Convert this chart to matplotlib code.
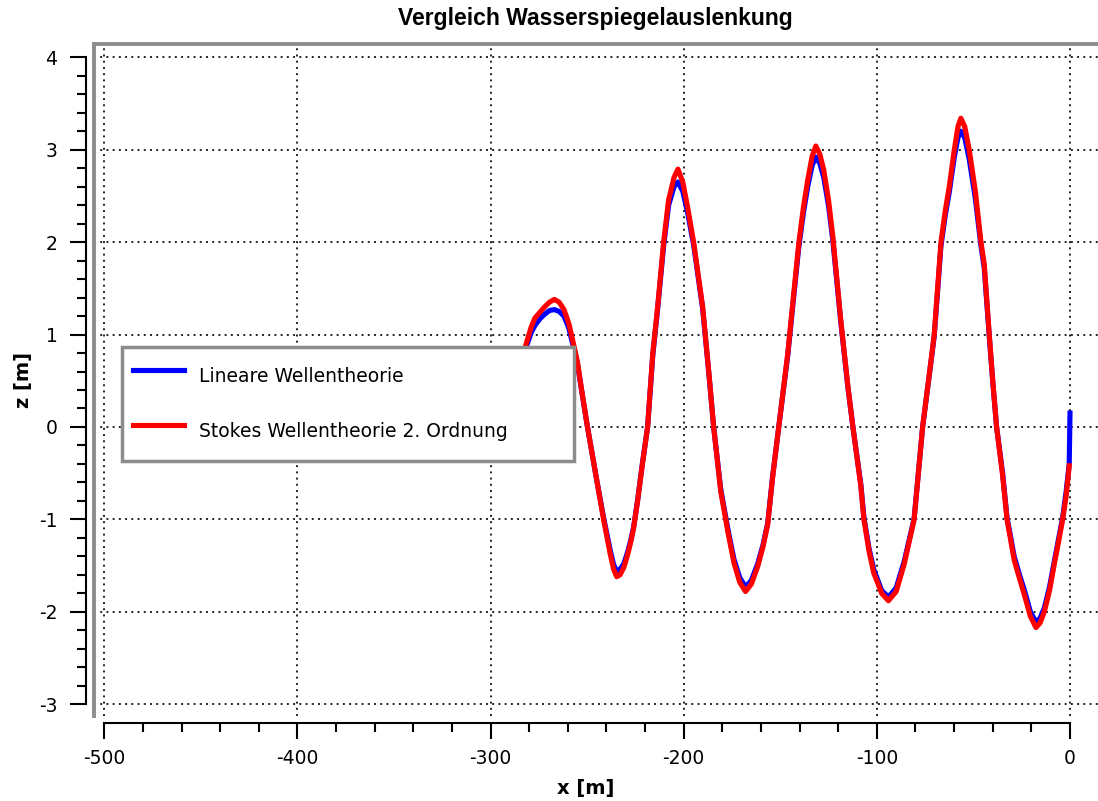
import numpy as np
import matplotlib.pyplot as plt
from matplotlib.lines import Line2D
from matplotlib.ticker import MultipleLocator

plt.rcParams['axes.unicode_minus'] = False
plt.rcParams['font.family'] = ['DejaVu Sans']

# values
x_stokes = [-283, -281, -279, -277, -274.5, -272, -269.5, -267, -264.5, -262, -259.5,
            -257.5, -255, -253, -250, -245.5, -241.5, -238, -236.3, -234.7, -233, -231,
            -229, -227.5, -226, -224, -221.5, -218.7, -216, -213.5, -210.4, -207.8, -205, -203,
            -200.5, -198, -194.8, -190.2, -187, -184.5, -180.8, -177, -174, -171, -168,
            -165, -161.7, -159, -156.5, -154, -150.8, -146.1, -143, -140.4, -138, -135.8, -133.5,
            -131.6, -129.5, -127.5, -125, -122.8, -118.7, -115, -112.4, -108.3, -106.7,
            -104, -101.6, -97.5, -94, -90, -85.8, -80.7, -76.3, -72, -70.3, -66.8, -64.5,
            -62.5, -59.9, -58, -56.5, -54.5, -52.2, -49, -46.1, -44.4, -41.8, -40, -38,
            -34.9, -32.6, -28.9, -26, -23.7, -20.5, -17.6, -15.5, -13.3, -10.5, -8.1,
            -6, -3.8, -2, -0.4]
z_stokes = [0.80, 0.94, 1.08, 1.18, 1.24, 1.30, 1.35, 1.38, 1.35, 1.27, 1.12,
            0.94, 0.70, 0.42, 0.02, -0.52, -1.00, -1.38, -1.54, -1.62, -1.60, -1.52,
            -1.38, -1.25, -1.10, -0.82, -0.42, 0.00, 0.80, 1.30, 2.00, 2.46, 2.70, 2.79,
            2.65, 2.38, 1.99, 1.30, 0.59, 0.00, -0.70, -1.15, -1.47, -1.68, -1.78,
            -1.70, -1.51, -1.30, -1.05, -0.55, 0.00, 0.80, 1.45, 1.99, 2.38, 2.67, 2.93,
            3.04, 2.95, 2.78, 2.45, 2.06, 1.16, 0.44, 0.00, -0.64, -1.00,
            -1.35, -1.58, -1.80, -1.88, -1.78, -1.48, -1.00, 0.00, 0.71, 1.00, 2.00, 2.35,
            2.60, 3.00, 3.25, 3.34, 3.25, 3.00, 2.55, 2.00, 1.76, 1.00, 0.50, 0.00,
            -0.52, -1.00, -1.44, -1.65, -1.81, -2.05, -2.17, -2.12, -2.00, -1.76, -1.48,
            -1.25, -1.00, -0.75, -0.42]

x_lin = x_stokes + [0.0]
z_lin = [0.76, 0.90, 1.02, 1.10, 1.17, 1.22, 1.26, 1.27, 1.25, 1.20, 1.07,
         0.90, 0.68, 0.41, 0.02, -0.52, -0.98, -1.34, -1.49, -1.56, -1.54, -1.48,
         -1.35, -1.23, -1.09, -0.81, -0.41, 0.00, 0.78, 1.28, 1.96, 2.40, 2.60, 2.65,
         2.55, 2.32, 1.96, 1.28, 0.58, 0.00, -0.68, -1.12, -1.43, -1.63, -1.73,
         -1.66, -1.48, -1.28, -1.04, -0.54, 0.00, 0.78, 1.42, 1.95, 2.32, 2.60, 2.83,
         2.92, 2.85, 2.70, 2.39, 2.02, 1.14, 0.43, 0.00, -0.62, -0.98,
         -1.32, -1.54, -1.77, -1.84, -1.74, -1.45, -0.99, 0.00, 0.70, 0.98, 1.96, 2.30,
         2.54, 2.92, 3.13, 3.20, 3.13, 2.90, 2.47, 1.96, 1.72, 0.98, 0.49, 0.00,
         -0.50, -0.98, -1.40, -1.61, -1.76, -2.00, -2.11, -2.07, -1.96, -1.72, -1.45,
         -1.22, -0.98, -0.70, -0.40, 0.15]

xticks = [-500, -400, -300, -200, -100, 0]
yticks = [-3, -2, -1, 0, 1, 2, 3, 4]
labels = ['Lineare Wellentheorie', 'Stokes Wellentheorie 2. Ordnung']

W, H = 1098, 801
fig = plt.figure(figsize=(W / 100, H / 100), dpi=100)
left, right, top, bottom = 93.5, 1098, 44.5, 716
ax = fig.add_axes([left / W, 1 - bottom / H, (right - left) / W, (bottom - top) / H])

ax.plot(x_lin, z_lin, color='#0000ff', lw=3.7, label=labels[0], zorder=3,
        solid_joinstyle='round')
ax.plot(x_stokes, z_stokes, color='#ff0000', lw=3.7, label=labels[1], zorder=4,
        solid_joinstyle='round')

ax.set_xlim(-505.6, 14.5)
ax.set_ylim(-3.127, 4.138)
ax.set_xticks(xticks)
ax.set_yticks(yticks)
ax.xaxis.set_minor_locator(MultipleLocator(20))
ax.yaxis.set_minor_locator(MultipleLocator(0.2))

ax.set_axisbelow(True)
ax.grid(True, which='major', color='#222222', linestyle=(0, (1, 2.2)), lw=1.4)

gray = '#8c8c8c'
ax.spines['right'].set_visible(False)
ax.spines['top'].set_visible(False)
ax.spines['left'].set_position(('outward', 5.4))
ax.spines['left'].set_bounds(-3, 4)
ax.spines['bottom'].set_position(('outward', 5.3))
ax.spines['bottom'].set_bounds(-500, 0)
for s in ('left', 'bottom'):
    ax.spines[s].set_linewidth(1.5)
    ax.spines[s].set_color('black')
ax.add_line(Line2D([0, 0, 1.01], [0, 1, 1], transform=ax.transAxes, color=gray,
                   lw=2.8, clip_on=False, solid_joinstyle='miter', zorder=5))

ax.tick_params(which='major', direction='out', length=11.5, width=1.5,
               colors='black', labelsize=13.5)
ax.tick_params(which='minor', direction='out', length=6.7, width=1.5, colors='black')
ax.tick_params(axis='y', which='major', pad=9)
ax.tick_params(axis='x', which='major', pad=7)

ax.set_xlabel('x [m]', fontsize=14, fontweight='bold')
ax.xaxis.set_label_coords(0.4903, (bottom - 779) / (bottom - top))
ax.set_ylabel('z [m]', fontsize=14, fontweight='bold')
ax.yaxis.set_label_coords((33 - left) / (right - left), 0.5)

ax.set_title('Vergleich Wasserspiegelauslenkung', fontsize=16.5, fontweight='bold',
             family=['Liberation Sans', 'DejaVu Sans'], pad=14)

leg = ax.legend(loc='lower left', bbox_to_anchor=(122 / W, 1 - 461 / H, 452 / W, 116 / H),
                bbox_transform=fig.transFigure, mode='expand', borderaxespad=0,
                fontsize=13.5, handlelength=2.72, handletextpad=0.8, handleheight=2.6,
                borderpad=0.6, labelspacing=1.02, fancybox=False, framealpha=1,
                edgecolor=gray)
leg.get_frame().set_linewidth(2.5)
leg.set_zorder(10)

fig.savefig('out.png', dpi=100)
